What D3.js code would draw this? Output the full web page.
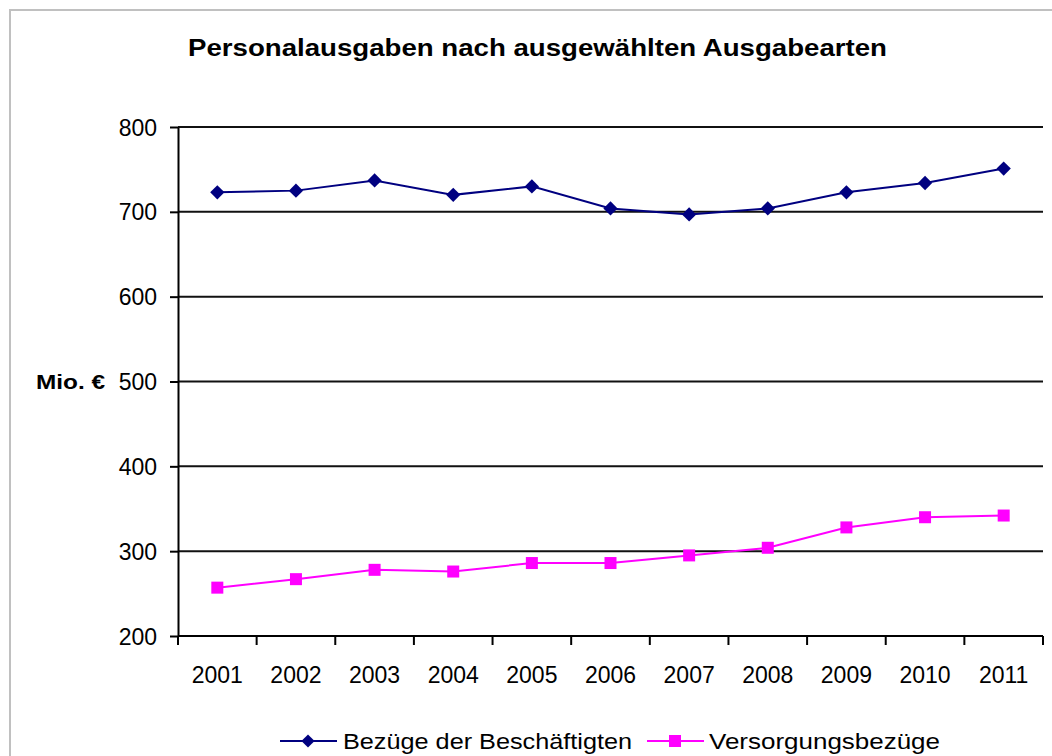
<!DOCTYPE html>
<html lang="de">
  <head>
   <meta http-equiv="Content-Type" content="text/html;charset=utf-8">
   <title>Personalausgaben</title>
   <script type="text/javascript" src="https://cdn.jsdelivr.net/npm/d3@7"></script>
   <style>
     body { margin: 0; background: #fff; }
     text { font-family: "Liberation Sans", Arial, sans-serif; }
   </style>
  </head>
  <body>
<script>

// values (Mio. €)
var years = ["2001", "2002", "2003", "2004", "2005", "2006", "2007", "2008", "2009", "2010", "2011"]
var beschaeftigte = [723, 725, 737, 720, 730, 704, 697, 704, 723, 734, 751]
var versorgung = [257, 267, 278, 276, 286, 286, 295, 304, 328, 340, 342]
var yTicks = [200, 300, 400, 500, 600, 700, 800]
var seriesNames = ["Bezüge der Beschäftigten", "Versorgungsbezüge"]

var width = 1052, height = 756
// note: "top" is taken by window.top, so plot box names get a prefix
var plotLeft = 178, plotRight = 1043, plotTop = 127, plotBottom = 636

var svg = d3.select("body").append("svg")
  .attr("width", width)
  .attr("height", height)

// outer chart frame
svg.append("rect")
  .attr("x", 10).attr("y", 10)
  .attr("width", width + 20).attr("height", height + 20)
  .attr("fill", "none")
  .attr("stroke", "#c0c0c0")
  .attr("stroke-width", 2)

var x = d3.scaleBand().domain(years).range([plotLeft, plotRight])
var y = d3.scaleLinear().domain([200, 800]).range([plotBottom, plotTop])

// title
svg.append("text")
  .attr("x", 188).attr("y", 56)
  .attr("textLength", 699)
  .attr("lengthAdjust", "spacingAndGlyphs")
  .style("font-size", "23px")
  .style("font-weight", "bold")
  .text("Personalausgaben nach ausgewählten Ausgabearten")

// gridlines
svg.append("g").selectAll("line").data(yTicks.slice(1)).enter().append("line")
  .attr("x1", plotLeft).attr("x2", plotRight)
  .attr("y1", function(d){return y(d)}).attr("y2", function(d){return y(d)})
  .attr("stroke", "#111")
  .attr("stroke-width", 2)

// y axis
var yAxis = svg.append("g")
  .attr("transform", "translate(" + plotLeft + ",0)")
  .call(d3.axisLeft(y).tickValues(yTicks).tickSize(8).tickPadding(13).tickSizeOuter(0))
yAxis.select(".domain").attr("stroke", "#000").attr("stroke-width", 2)
yAxis.selectAll(".tick line").attr("stroke", "#000").attr("stroke-width", 2)
yAxis.selectAll("text")
  .style("font-family", "'Liberation Sans', Arial, sans-serif")
  .style("font-size", "23px")
  .attr("fill", "#000")
  .attr("dy", "0.35em")

// x axis, ticks between the categories
var xAxis = svg.append("g")
  .attr("transform", "translate(0," + plotBottom + ")")
xAxis.append("line")
  .attr("x1", plotLeft).attr("x2", plotRight)
  .attr("stroke", "#000").attr("stroke-width", 2)
xAxis.selectAll("line.tk").data(years.concat(["end"])).enter().append("line")
  .attr("class", "tk")
  .attr("x1", function(d, i){return i < years.length ? x(d) : plotRight})
  .attr("x2", function(d, i){return i < years.length ? x(d) : plotRight})
  .attr("y1", 0).attr("y2", 9)
  .attr("stroke", "#000").attr("stroke-width", 2)
xAxis.selectAll("text").data(years).enter().append("text")
  .attr("x", function(d){return x(d) + x.bandwidth() / 2})
  .attr("y", 47)
  .attr("text-anchor", "middle")
  .style("font-size", "23px")
  .text(function(d){return d})

// y axis label
svg.append("text")
  .attr("x", 36).attr("y", 389)
  .attr("textLength", 69)
  .attr("lengthAdjust", "spacingAndGlyphs")
  .style("font-size", "20px")
  .style("font-weight", "bold")
  .text("Mio. €")

var cx = function(d, i){return x(years[i]) + x.bandwidth() / 2}
var line = d3.line().x(cx).y(function(d){return y(d)})

// Bezüge der Beschäftigten
svg.append("path").datum(beschaeftigte)
  .attr("d", line)
  .attr("fill", "none")
  .attr("stroke", "#000080")
  .attr("stroke-width", 2)
svg.append("g").selectAll("path").data(beschaeftigte).enter().append("path")
  .attr("d", d3.symbol().type(d3.symbolDiamond2).size(130))
  .attr("transform", function(d, i){return "translate(" + cx(d, i) + "," + y(d) + ")"})
  .attr("fill", "#000080")

// Versorgungsbezüge
svg.append("path").datum(versorgung)
  .attr("d", line)
  .attr("fill", "none")
  .attr("stroke", "#ff00ff")
  .attr("stroke-width", 2)
svg.append("g").selectAll("rect").data(versorgung).enter().append("rect")
  .attr("x", function(d, i){return cx(d, i) - 6})
  .attr("y", function(d){return y(d) - 6})
  .attr("width", 12).attr("height", 12)
  .attr("fill", "#ff00ff")

// legend
var legend = svg.append("g")
var lg1 = legend.append("g").attr("transform", "translate(280,741)")
lg1.append("line").attr("x1", 0).attr("x2", 57).attr("stroke", "#000080").attr("stroke-width", 2)
lg1.append("path").attr("d", d3.symbol().type(d3.symbolDiamond2).size(110))
  .attr("transform", "translate(28,0)").attr("fill", "#000080")
lg1.append("text").attr("x", 63).attr("y", 8)
  .attr("textLength", 289).attr("lengthAdjust", "spacingAndGlyphs")
  .style("font-size", "22px").text(seriesNames[0])

var lg2 = legend.append("g").attr("transform", "translate(647,741)")
lg2.append("line").attr("x1", 0).attr("x2", 57).attr("stroke", "#ff00ff").attr("stroke-width", 2)
lg2.append("rect").attr("x", 22).attr("y", -6).attr("width", 12).attr("height", 12).attr("fill", "#ff00ff")
lg2.append("text").attr("x", 62).attr("y", 8)
  .attr("textLength", 231).attr("lengthAdjust", "spacingAndGlyphs")
  .style("font-size", "22px").text(seriesNames[1])

</script>
  </body>
</html>
